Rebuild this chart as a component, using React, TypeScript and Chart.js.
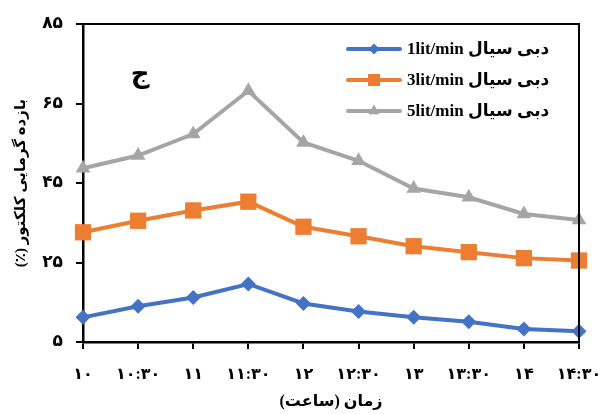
import React, { useEffect, useRef } from "react";
import { Chart, registerables } from "chart.js";

Chart.register(...registerables);

const categories = ["۱۰", "۱۰:۳۰", "۱۱", "۱۱:۳۰", "۱۲", "۱۲:۳۰", "۱۳", "۱۳:۳۰", "۱۴", "۱۴:۳۰"];
const flow1 = [11.2, 14.0, 16.2, 19.6, 14.7, 12.7, 11.2, 10.1, 8.3, 7.7];
const flow3 = [32.6, 35.5, 38.1, 40.3, 34.0, 31.6, 29.1, 27.6, 26.1, 25.5];
const flow5 = [48.7, 51.9, 57.3, 68.2, 55.2, 50.6, 43.6, 41.4, 37.2, 35.7];
const seriesNames = ["دبی سیال 1lit/min", "دبی سیال 3lit/min", "دبی سیال 5lit/min"];
const yTickLabels: Record<number, string> = { 5: "۵", 25: "۲۵", 45: "۴۵", 65: "۶۵", 85: "۸۵" };
const yTitle = "بازده گرمایی کلکتور (٪)";
const xTitle = "زمان (ساعت)";
const panelLabel = "ج";

const FONT = "'Liberation Serif', 'DejaVu Sans', serif";
const colors = ["#4472C4", "#ED7D31", "#A5A5A5"];
const styles = ["rectRot", "rect", "triangle"] as const;
const radii = [7.5, 11.5, 8.5];

const framePlugin = {
  id: "frameAndLegend",
  afterDraw(chart: any) {
    const { ctx, chartArea } = chart;
    const { left, right, top, bottom } = chartArea;
    ctx.save();
    ctx.strokeStyle = "#000";
    ctx.lineWidth = 2;
    ctx.beginPath();
    ctx.moveTo(left, top);
    ctx.lineTo(right, top);
    ctx.lineTo(right, bottom);
    ctx.stroke();

    // panel label
    ctx.fillStyle = "#000";
    ctx.font = `bold 26px ${FONT}`;
    ctx.textAlign = "center";
    ctx.textBaseline = "middle";
    ctx.fillText(panelLabel, 140, 75);

    // legend
    const rowsY = [49, 80, 111];
    const lineX0 = 348;
    const lineX1 = 400;
    seriesNames.forEach((name, i) => {
      const y = rowsY[i];
      ctx.strokeStyle = colors[i];
      ctx.lineWidth = 4;
      ctx.lineCap = "round";
      ctx.beginPath();
      ctx.moveTo(lineX0, y);
      ctx.lineTo(lineX1, y);
      ctx.stroke();
      const r = [5.5, 8, 6.5][i];
      ctx.fillStyle = colors[i];
      ctx.beginPath();
      const cx = (lineX0 + lineX1) / 2;
      if (i === 0) {
        ctx.moveTo(cx, y - r);
        ctx.lineTo(cx + r, y);
        ctx.lineTo(cx, y + r);
        ctx.lineTo(cx - r, y);
        ctx.closePath();
      } else if (i === 1) {
        ctx.rect(cx - r * 0.75, y - r * 0.75, r * 1.5, r * 1.5);
      } else {
        ctx.moveTo(cx, y - r);
        ctx.lineTo(cx + r * 0.87, y + r * 0.5);
        ctx.lineTo(cx - r * 0.87, y + r * 0.5);
        ctx.closePath();
      }
      ctx.fill();
      ctx.fillStyle = "#000";
      ctx.font = `bold 17px ${FONT}`;
      ctx.textBaseline = "middle";
      (ctx as any).direction = "rtl";
      ctx.textAlign = "left";
      ctx.fillText(name, 407, y + 1);
    });
    ctx.restore();
  },
};

export default function App() {
  const ref = useRef<HTMLCanvasElement | null>(null);
  useEffect(() => {
    document.body.style.margin = "0";
    const canvas = ref.current!;
    const chart = new Chart(canvas, {
      type: "line",
      data: {
        labels: categories,
        datasets: [flow1, flow3, flow5].map((d, i) => ({
          label: seriesNames[i],
          data: d,
          borderColor: colors[i],
          backgroundColor: colors[i],
          borderWidth: 4,
          pointStyle: styles[i],
          pointRadius: radii[i],
          pointBorderWidth: 0,
          pointBackgroundColor: colors[i],
          tension: 0,
          clip: false as any,
        })),
      },
      options: {
        animation: false,
        responsive: false,
        devicePixelRatio: 1,
        layout: { padding: { top: 24, right: 24, left: 0, bottom: 0 } },
        plugins: { legend: { display: false }, tooltip: { enabled: false } },
        scales: {
          x: {
            type: "category",
            offset: false,
            grid: { drawOnChartArea: false, drawTicks: true, tickLength: 7, color: "#000", lineWidth: 2 },
            border: { display: true, color: "#000", width: 2.5 },
            ticks: {
              color: "#000",
              font: { family: FONT, size: 16, weight: "bold" },
              padding: 16,
              maxRotation: 0,
              autoSkip: false,
            },
            title: {
              display: true,
              text: xTitle,
              color: "#000",
              font: { family: FONT, size: 16, weight: "bold" },
              padding: { top: 0, bottom: 3 },
            },
            afterFit: (s: any) => {
              s.height = 72;
              s.paddingLeft = 0;
              s.paddingRight = 0;
            },
          },
          y: {
            min: 5,
            max: 85,
            grid: { drawOnChartArea: false, drawTicks: true, tickLength: 7, color: "#000", lineWidth: 2 },
            border: { display: true, color: "#000", width: 2.5 },
            ticks: {
              stepSize: 20,
              color: "#000",
              font: { family: FONT, size: 17, weight: "bold" },
              padding: 13,
              callback: (v: any) => yTickLabels[v as number] ?? "",
            },
            title: {
              display: true,
              text: yTitle,
              color: "#000",
              font: { family: FONT, size: 15, weight: "bold" },
              padding: { top: 12, bottom: 0 },
            },
            afterFit: (s: any) => {
              s.width = 83;
              s.paddingTop = 0;
              s.paddingBottom = 0;
            },
          },
        },
      },
      plugins: [framePlugin],
    });
    return () => chart.destroy();
  }, []);
  return (
    <canvas
      ref={ref}
      width={603}
      height={414}
      style={{ display: "block", width: 603, height: 414, direction: "rtl" }}
    />
  );
}
